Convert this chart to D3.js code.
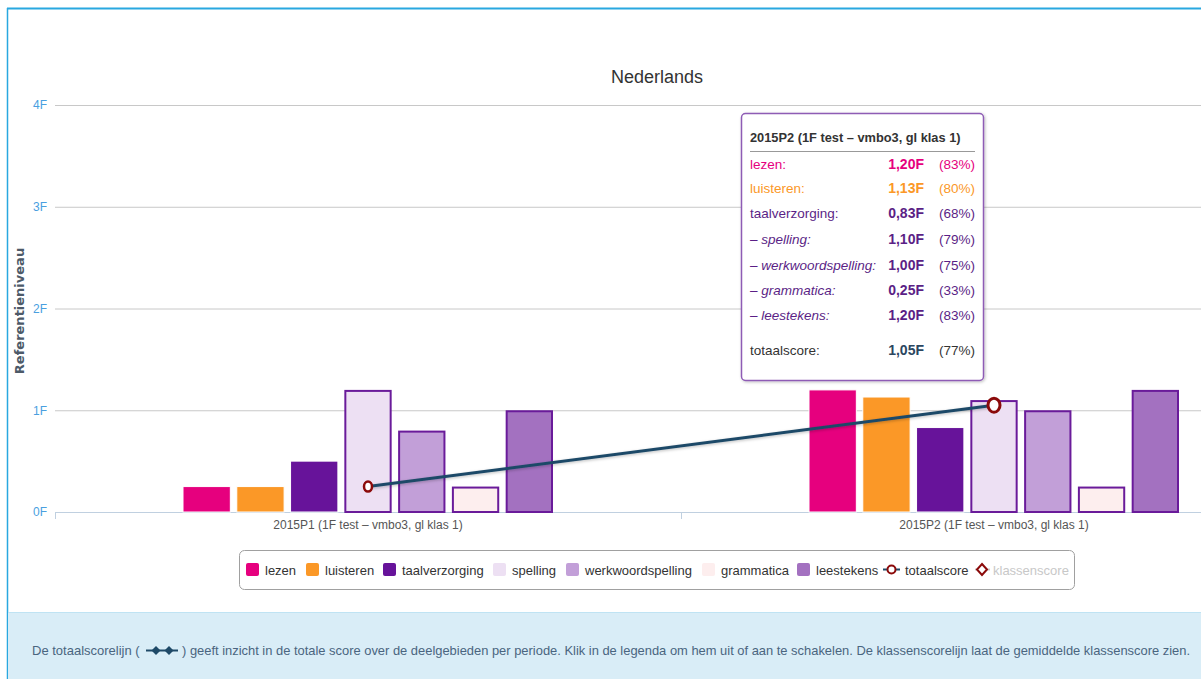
<!DOCTYPE html>
<html>
<head>
<meta charset="utf-8">
<script src="https://cdn.jsdelivr.net/npm/d3@7"></script>
<style>
  body { margin: 0; background: #fff; overflow: hidden; }
  svg { display: block; font-family: "Liberation Sans", Arial, sans-serif; }
</style>
</head>
<body>
<div id="chart"></div>
<script>
// DATA ------------------------------
const periods = ["2015P1 (1F test \u2013 vmbo3, gl klas 1)", "2015P2 (1F test \u2013 vmbo3, gl klas 1)"];
const series = ["lezen", "luisteren", "taalverzorging", "spelling", "werkwoordspelling", "grammatica", "leestekens"];
const values = {
  lezen: [0.25, 1.20],
  luisteren: [0.25, 1.13],
  taalverzorging: [0.50, 0.83],
  spelling: [1.20, 1.10],
  werkwoordspelling: [0.80, 1.00],
  grammatica: [0.25, 0.25],
  leestekens: [1.00, 1.20]
};
const totaalscore = [0.25, 1.05];
const tipPercent = [83, 80, 68, 79, 75, 33, 83];
const tipTotaalPercent = 77;
const yTicks = [0, 1, 2, 3, 4];

const colors = {
  lezen: "#e6007e", luisteren: "#fb9827", taalverzorging: "#67139a",
  spelling: "#ede0f3", werkwoordspelling: "#c29fd8", grammatica: "#fdeeee", leestekens: "#a371c0"
};
const outlined = ["spelling", "werkwoordspelling", "grammatica", "leestekens"];

// CHART INIT ------------------------------
const W = 1201, H = 679;
const svg = d3.select("#chart").append("svg").attr("width", W).attr("height", H);

const defs = svg.append("defs");
const sh = defs.append("filter").attr("id", "shadow").attr("x", "-20%").attr("y", "-20%").attr("width", "140%").attr("height", "140%");
sh.append("feDropShadow").attr("dx", 1).attr("dy", 1).attr("stdDeviation", 1.5).attr("flood-color", "#000").attr("flood-opacity", 0.25);

// frame
svg.append("line").attr("x1", 7).attr("x2", W).attr("y1", 8.5).attr("y2", 8.5).attr("stroke", "#29a8e0").attr("stroke-width", 2);
svg.append("line").attr("x1", 7.5).attr("x2", 7.5).attr("y1", 8).attr("y2", H).attr("stroke", "#29a8e0").attr("stroke-width", 1.5);

const fmt = v => d3.format(".2f")(v).replace(".", ",") + "F";

// scales
const x0 = d3.scaleBand().domain(periods).range([55, 1307]).paddingInner(0);
const x1 = d3.scaleBand().domain(series).range([128, 498]).paddingInner(0.12);
const y = d3.scaleLinear().domain([0, 4]).range([512, 105]);

// title
svg.append("text").attr("x", 657).attr("y", 83).attr("text-anchor", "middle")
  .attr("font-size", 18).attr("fill", "#333").text("Nederlands");

// y grid + labels
const yAxis = svg.append("g").attr("transform", "translate(55,0)")
  .call(d3.axisLeft(y).tickValues(yTicks).tickSize(-(W - 55)).tickFormat(d => d + "F"));
yAxis.attr("font-family", null);
yAxis.select(".domain").remove();
yAxis.selectAll(".tick line").attr("stroke", "#c8c8c8").attr("stroke-width", 1);
yAxis.selectAll(".tick text").attr("fill", "#4a9fdf").attr("font-size", 12).attr("x", -8);

svg.append("text").attr("transform", "translate(24,311) rotate(-90)").attr("text-anchor", "middle")
  .attr("font-size", 13).attr("font-weight", "bold").attr("fill", "#4d5a68")
  .attr("font-family", "DejaVu Sans, sans-serif").text("Referentieniveau");

// x axis
const xAxis = svg.append("g").attr("transform", "translate(0,512)")
  .call(d3.axisBottom(x0).tickSize(0).tickSizeOuter(0));
xAxis.attr("font-family", null);
xAxis.select(".domain").attr("stroke", "#c0d0e0");
xAxis.selectAll(".tick text").attr("fill", "#555").attr("font-size", 12).attr("dy", "1.2em");
svg.append("g").selectAll("line").data(periods.slice(1)).join("line")
  .attr("x1", d => x0(d) + 0.5).attr("x2", d => x0(d) + 0.5)
  .attr("y1", 512).attr("y2", 519).attr("stroke", "#c0d0e0");
svg.append("line").attr("x1", 55.5).attr("x2", 55.5).attr("y1", 512).attr("y2", 519).attr("stroke", "#c0d0e0");

// bars
const groups = svg.append("g").selectAll("g").data(periods).join("g")
  .attr("transform", d => `translate(${x0(d)},0)`);
groups.selectAll("rect").data((p, i) => series.map(s => ({ s, v: values[s][i] }))).join("rect")
  .attr("x", d => x1(d.s) + (outlined.includes(d.s) ? 1 : 0))
  .attr("y", d => y(d.v) + (outlined.includes(d.s) ? 1 : 0))
  .attr("width", d => x1.bandwidth() - (outlined.includes(d.s) ? 2 : 0))
  .attr("height", d => y(0) - y(d.v) - (outlined.includes(d.s) ? 1 : 0))
  .attr("fill", d => colors[d.s])
  .attr("stroke", d => outlined.includes(d.s) ? "#6a1b9a" : "#fff")
  .attr("stroke-width", d => outlined.includes(d.s) ? 2 : 1);

// totaalscore line
const cx = i => x0(periods[i]) + x0.bandwidth() / 2;
const line = d3.line().x((d, i) => cx(i)).y(d => y(d));
svg.append("path").datum(totaalscore).attr("d", line).attr("fill", "none")
  .attr("stroke", "#1f4a68").attr("stroke-width", 3).attr("filter", "url(#shadow)");
svg.append("g").selectAll("ellipse").data(totaalscore).join("ellipse")
  .attr("cx", (d, i) => cx(i)).attr("cy", d => y(d))
  .attr("rx", (d, i) => i === 1 ? 6 : 4).attr("ry", (d, i) => i === 1 ? 7 : 5)
  .attr("fill", "#fff").attr("stroke", "#8b0a0a").attr("stroke-width", (d, i) => i === 1 ? 3 : 2.5);

// legend
const lg = svg.append("g");
lg.append("rect").attr("x", 239.5).attr("y", 550.5).attr("width", 835).attr("height", 39).attr("rx", 5)
  .attr("fill", "#fff").attr("stroke", "#a0a0a0");
const legendX = [246, 306, 383, 493, 566, 702, 797];
series.forEach((s, i) => {
  lg.append("rect").attr("x", legendX[i]).attr("y", 563).attr("width", 13).attr("height", 13).attr("rx", 2)
    .attr("fill", colors[s]);
  lg.append("text").attr("x", legendX[i] + 19).attr("y", 575).attr("font-size", 13).attr("fill", "#333").text(s);
});
lg.append("line").attr("x1", 883).attr("x2", 900).attr("y1", 569.5).attr("y2", 569.5).attr("stroke", "#1f4a68").attr("stroke-width", 2);
lg.append("circle").attr("cx", 891.5).attr("cy", 569.5).attr("r", 4).attr("fill", "#fff").attr("stroke", "#8b0a0a").attr("stroke-width", 2);
lg.append("text").attr("x", 905).attr("y", 575).attr("font-size", 13).attr("fill", "#333").text("totaalscore");
lg.append("line").attr("x1", 975).attr("x2", 990).attr("y1", 569.5).attr("y2", 569.5).attr("stroke", "#ccc").attr("stroke-width", 2);
lg.append("path").attr("d", "M982,564 L987,569.5 L982,575 L977,569.5 Z").attr("fill", "#fff").attr("stroke", "#8b0a0a").attr("stroke-width", 2);
lg.append("text").attr("x", 993).attr("y", 575).attr("font-size", 13).attr("fill", "#c8c8c8").text("klassenscore");

// tooltip
const tip = svg.append("g");
tip.append("rect").attr("x", 741.5).attr("y", 113.5).attr("width", 242).attr("height", 267).attr("rx", 4)
  .attr("fill", "#fff").attr("stroke", "#8e5cb5").attr("stroke-width", 1.5).attr("filter", "url(#shadow)");
tip.append("text").attr("x", 750).attr("y", 142).attr("font-size", 12.8).attr("font-weight", "bold").attr("fill", "#333")
  .text(periods[1]);
tip.append("line").attr("x1", 750).attr("x2", 975).attr("y1", 151.5).attr("y2", 151.5).attr("stroke", "#999");
const tipColors = ["#e6007e", "#fb9827", "#5b1f86", "#5b1f86", "#5b1f86", "#5b1f86", "#5b1f86"];
const rowY = [169, 193, 218, 244, 270, 295, 320];
series.forEach((s, i) => {
  const sub = i >= 3;
  tip.append("text").attr("x", 750).attr("y", rowY[i]).attr("font-size", 13.5).attr("fill", tipColors[i])
    .attr("font-style", sub ? "italic" : null).text((sub ? "\u2013 " : "") + s + ":");
  tip.append("text").attr("x", 924).attr("y", rowY[i]).attr("font-size", 14).attr("font-weight", "bold")
    .attr("text-anchor", "end").attr("fill", tipColors[i]).text(fmt(values[s][1]));
  tip.append("text").attr("x", 975).attr("y", rowY[i]).attr("font-size", 13.5)
    .attr("text-anchor", "end").attr("fill", tipColors[i]).text("(" + tipPercent[i] + "%)");
});
tip.append("text").attr("x", 750).attr("y", 355).attr("font-size", 13.5).attr("fill", "#333").text("totaalscore:");
tip.append("text").attr("x", 924).attr("y", 355).attr("font-size", 14).attr("font-weight", "bold")
  .attr("text-anchor", "end").attr("fill", "#2b4660").text(fmt(totaalscore[1]));
tip.append("text").attr("x", 975).attr("y", 355).attr("font-size", 13.5)
  .attr("text-anchor", "end").attr("fill", "#333").text("(" + tipTotaalPercent + "%)");

// info panel
svg.append("rect").attr("x", 8).attr("y", 612).attr("width", W - 8).attr("height", H - 612).attr("fill", "#d9edf7");
svg.append("line").attr("x1", 8).attr("x2", W).attr("y1", 612.5).attr("y2", 612.5).attr("stroke", "#bfe3f3");
const info = svg.append("g").attr("font-size", 13).attr("fill", "#4a6580");
info.append("text").attr("x", 32).attr("y", 655).text("De totaalscorelijn (");
info.append("line").attr("x1", 146).attr("x2", 178).attr("y1", 650.5).attr("y2", 650.5).attr("stroke", "#1f4a68").attr("stroke-width", 2);
info.selectAll("path").data([156, 169]).join("path")
  .attr("d", d => `M${d - 4.5},650.5 L${d},646 L${d + 4.5},650.5 L${d},655 Z`).attr("fill", "#1f4a68");
info.append("text").attr("x", 182).attr("y", 655).attr("textLength", 1008).attr("lengthAdjust", "spacingAndGlyphs")
  .text(") geeft inzicht in de totale score over de deelgebieden per periode. Klik in de legenda om hem uit of aan te schakelen. De klassenscorelijn laat de gemiddelde klassenscore zien.");
</script>
</body>
</html>
